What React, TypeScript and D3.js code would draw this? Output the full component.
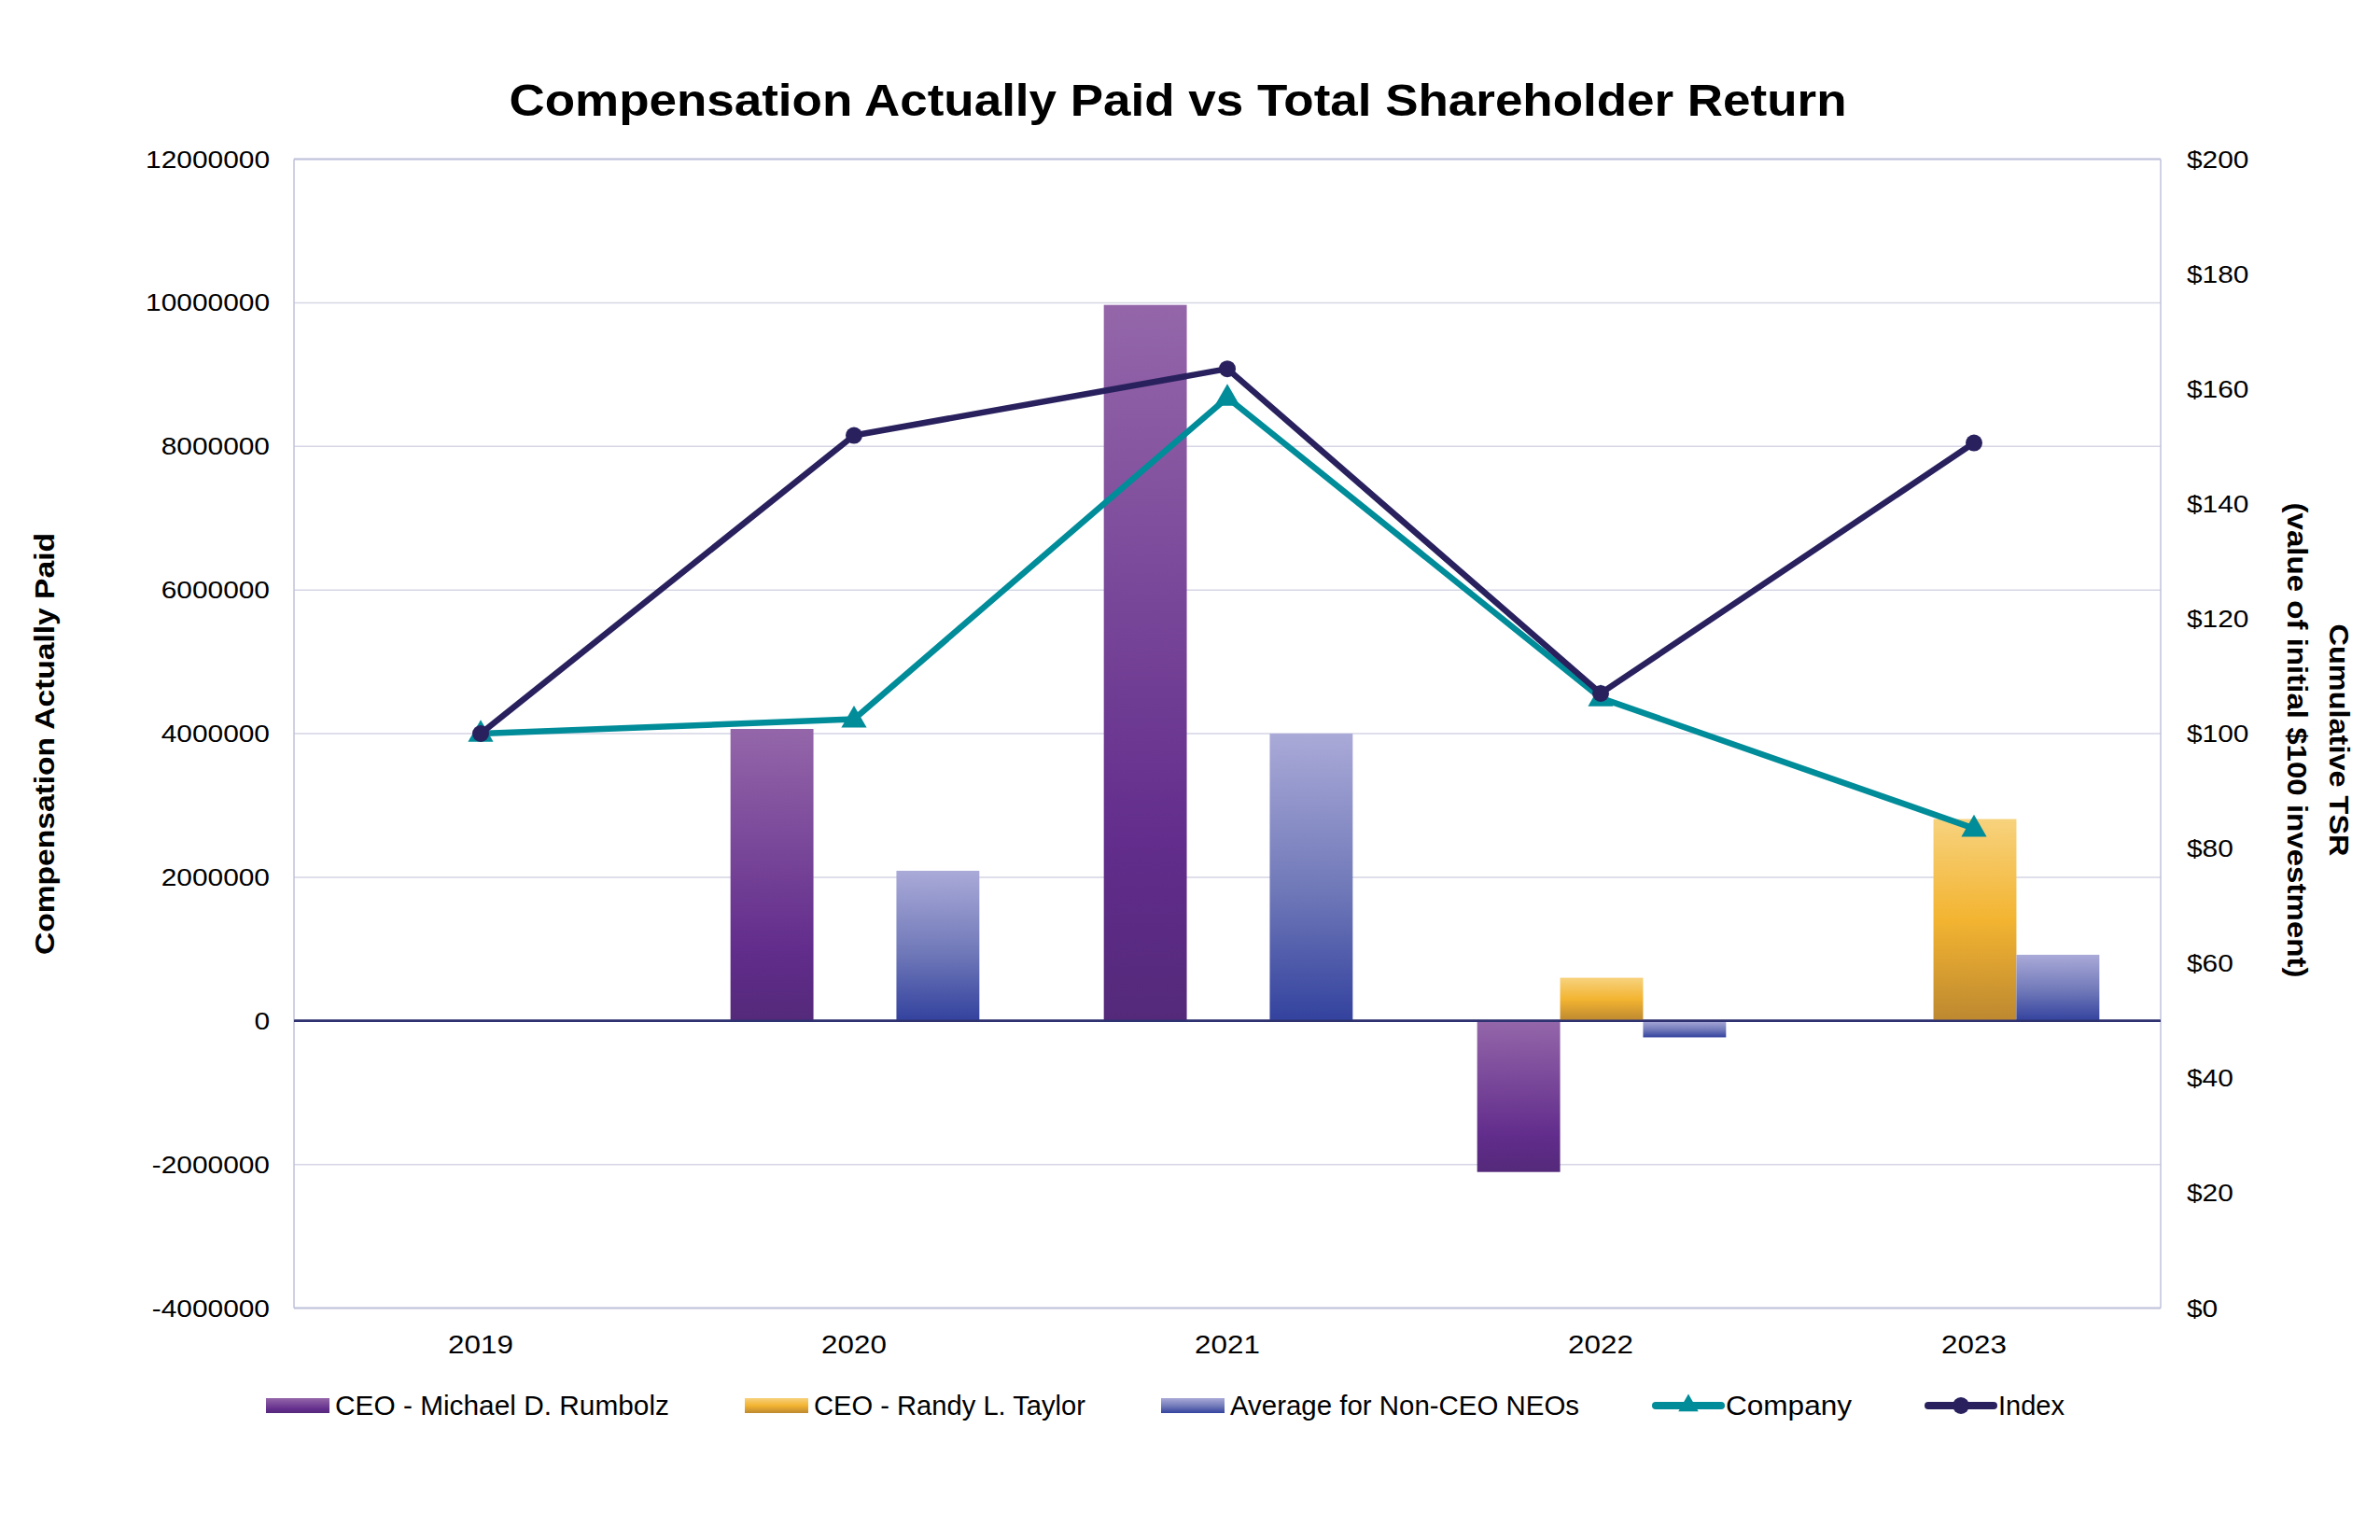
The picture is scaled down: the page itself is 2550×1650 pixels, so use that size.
import React from "react";
import * as d3 from "d3";

const years = ["2019", "2020", "2021", "2022", "2023"];
const ceoRumbolz: (number | null)[] = [null, 4065000, 9970000, -2105000, null];
const ceoTaylor: (number | null)[] = [null, null, null, 600000, 2810000];
const avgNonCeo: (number | null)[] = [null, 2090000, 4000000, -230000, 920000];
const companyTSR = [100, 102.5, 158.5, 106.2, 83.5];
const indexTSR = [100, 151.9, 163.5, 107, 150.6];
const leftTicks = [-4000000, -2000000, 0, 2000000, 4000000, 6000000, 8000000, 10000000, 12000000];
const rightTicks = [0, 20, 40, 60, 80, 100, 120, 140, 160, 180, 200];

const W = 2550, H = 1650;
const plot = { left: 315, right: 2315, top: 170.5, bottom: 1401.5 };
const FONT = "'Liberation Sans', Arial, sans-serif";

const barSeries = [
  { key: "rumbolz", name: "CEO - Michael D. Rumbolz", values: ceoRumbolz, grad: "gPurple" },
  { key: "taylor", name: "CEO - Randy L. Taylor", values: ceoTaylor, grad: "gGold" },
  { key: "avg", name: "Average for Non-CEO NEOs", values: avgNonCeo, grad: "gBlue" },
];

export default function App() {
  const x = d3.scaleBand<string>().domain(years).range([plot.left, plot.right]).padding(0);
  const yL = d3.scaleLinear().domain([-4000000, 12000000]).range([plot.bottom, plot.top]);
  const yR = d3.scaleLinear().domain([0, 200]).range([plot.bottom, plot.top]);
  const bw = x.bandwidth() / (3 + 1.5);
  const inner = d3.scaleBand<string>().domain(barSeries.map((s) => s.key)).range([0, bw * 3]).padding(0);
  const cx = (y: string) => (x(y) as number) + x.bandwidth() / 2;

  const lineGen = d3
    .line<number>()
    .x((_, i) => cx(years[i]))
    .y((d) => yR(d));

  const tri = d3.symbol().type(d3.symbolTriangle).size(320)();
  const triLeg = d3.symbol().type(d3.symbolTriangle).size(200)();

  const legendItems = [
    { type: "bar", grad: "gPurple", label: "CEO - Michael D. Rumbolz", x: 285, tl: 358 },
    { type: "bar", grad: "gGold", label: "CEO - Randy L. Taylor", x: 798, tl: 291 },
    { type: "bar", grad: "gBlue", label: "Average for Non-CEO NEOs", x: 1244, tl: 374 },
    { type: "company", label: "Company", x: 1770, tl: 135 },
    { type: "index", label: "Index", x: 2062, tl: 71 },
  ];
  const legY = 1506;

  return (
    <svg width={W} height={H} style={{ position: "absolute", left: 0, top: 0, background: "#fff" }} fontFamily={FONT}>
      <defs>
        <linearGradient id="gPurple" x1="0" y1="0" x2="0" y2="1">
          <stop offset="0" stopColor="#9466A9" />
          <stop offset="0.75" stopColor="#622D8C" />
          <stop offset="1" stopColor="#54297A" />
        </linearGradient>
        <linearGradient id="gGold" x1="0" y1="0" x2="0" y2="1">
          <stop offset="0" stopColor="#F7D27D" />
          <stop offset="0.5" stopColor="#F3B431" />
          <stop offset="1" stopColor="#BD8830" />
        </linearGradient>
        <linearGradient id="gBlue" x1="0" y1="0" x2="0" y2="1">
          <stop offset="0" stopColor="#AAAAD8" />
          <stop offset="0.55" stopColor="#6F78B8" />
          <stop offset="1" stopColor="#33429E" />
        </linearGradient>
      </defs>
      <rect x={0} y={0} width={W} height={H} fill="#fff" />

      {/* title */}
      <text x={1262} y={124} textAnchor="middle" fontSize={48} fontWeight="bold" fill="#000" textLength={1433} lengthAdjust="spacingAndGlyphs">
        Compensation Actually Paid vs Total Shareholder Return
      </text>

      {/* gridlines */}
      {leftTicks.map((t) => (
        <line key={t} x1={plot.left} x2={plot.right} y1={yL(t)} y2={yL(t)} stroke={t === 0 ? "#2E3270" : "#D5D5E6"} strokeWidth={t === 0 ? 2.5 : 1.5} />
      ))}
      {/* border */}
      <line x1={plot.left} x2={plot.left} y1={plot.top} y2={plot.bottom} stroke="#BFC2DB" strokeWidth={1.5} />
      <line x1={plot.right} x2={plot.right} y1={plot.top} y2={plot.bottom} stroke="#BFC2DB" strokeWidth={1.5} />
      <line x1={plot.left} x2={plot.right} y1={plot.top} y2={plot.top} stroke="#BFC2DB" strokeWidth={2} />
      <line x1={plot.left} x2={plot.right} y1={plot.bottom} y2={plot.bottom} stroke="#BFC2DB" strokeWidth={2} />

      {/* bars */}
      {barSeries.map((s) =>
        s.values.map((v, i) => {
          if (v === null) return null;
          const y0 = yL(0), y1 = yL(v);
          const bx = cx(years[i]) - (bw * 3) / 2 + (inner(s.key) as number) + 1;
          return <rect key={s.key + i} x={bx} y={Math.min(y0, y1)} width={bw} height={Math.abs(y1 - y0)} fill={`url(#${s.grad})`} />;
        })
      )}
      {/* zero line on top */}
      <line x1={plot.left} x2={plot.right} y1={yL(0)} y2={yL(0)} stroke="#2E3270" strokeWidth={2.5} />

      {/* lines */}
      <path d={lineGen(companyTSR) as string} fill="none" stroke="#008C99" strokeWidth={6.5} strokeLinejoin="round" />
      {companyTSR.map((v, i) => (
        <path key={"c" + i} d={tri as string} transform={`translate(${cx(years[i])},${yR(v) + 1})`} fill="#008C99" />
      ))}
      <path d={lineGen(indexTSR) as string} fill="none" stroke="#29215E" strokeWidth={6.5} strokeLinejoin="round" />
      {indexTSR.map((v, i) => (
        <circle key={"i" + i} cx={cx(years[i])} cy={yR(v)} r={9} fill="#29215E" />
      ))}

      {/* left ticks */}
      {leftTicks.map((t) => (
        <text key={t} transform={`translate(289,${yL(t) + 9}) scale(1.15,1)`} textAnchor="end" fontSize={26} fill="#000">
          {String(t)}
        </text>
      ))}
      {/* right ticks */}
      {rightTicks.map((t) => (
        <text key={t} transform={`translate(2343,${yR(t) + 9}) scale(1.15,1)`} textAnchor="start" fontSize={26} fill="#000">
          {"$" + t}
        </text>
      ))}
      {/* x labels */}
      {years.map((y) => (
        <text key={y} transform={`translate(${cx(y)},1450) scale(1.12,1)`} textAnchor="middle" fontSize={28} fill="#000">
          {y}
        </text>
      ))}

      {/* axis titles */}
      <text transform="translate(58,797) rotate(-90)" textAnchor="middle" fontSize={29} fontWeight="bold" fill="#000" textLength={452} lengthAdjust="spacingAndGlyphs">
        Compensation Actually Paid
      </text>
      <text transform="translate(2496,793) rotate(90)" textAnchor="middle" fontSize={29} fontWeight="bold" fill="#000" textLength={249} lengthAdjust="spacingAndGlyphs">
        Cumulative TSR
      </text>
      <text transform="translate(2451,793) rotate(90)" textAnchor="middle" fontSize={29} fontWeight="bold" fill="#000" textLength={509} lengthAdjust="spacingAndGlyphs">
        (value of initial $100 investment)
      </text>

      {/* legend */}
      {legendItems.map((it) => (
        <g key={it.label}>
          {it.type === "bar" ? (
            <rect x={it.x} y={legY - 8} width={68} height={16} fill={`url(#${it.grad})`} />
          ) : (
            <g>
              <line x1={it.x + 4} x2={it.x + 74} y1={legY} y2={legY} stroke={it.type === "company" ? "#008C99" : "#29215E"} strokeWidth={8} strokeLinecap="round" />
              {it.type === "company" ? (
                <path d={triLeg as string} transform={`translate(${it.x + 39},${legY})`} fill="#008C99" />
              ) : (
                <circle cx={it.x + 39} cy={legY} r={9} fill="#29215E" />
              )}
            </g>
          )}
          <text x={it.x + (it.type === "bar" ? 74 : 79)} y={legY + 10} fontSize={29} fill="#000" textLength={it.tl} lengthAdjust="spacingAndGlyphs">
            {it.label}
          </text>
        </g>
      ))}
    </svg>
  );
}
